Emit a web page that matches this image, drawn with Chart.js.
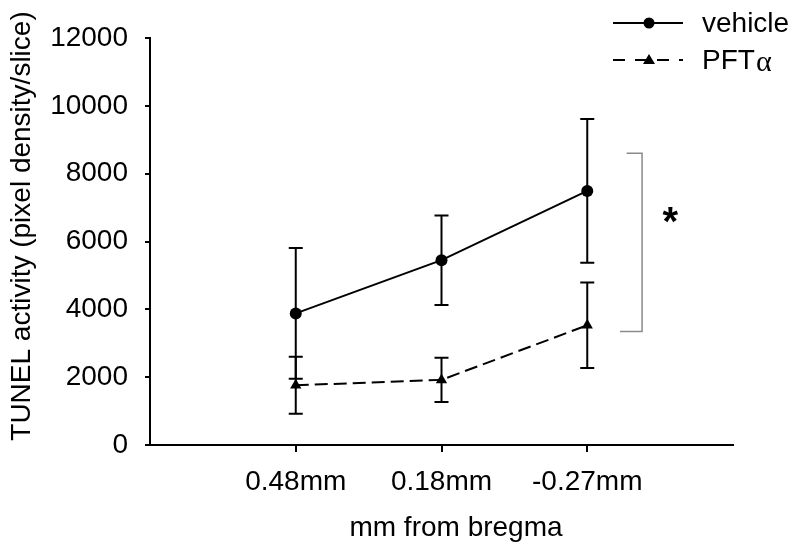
<!DOCTYPE html>
<html>
<head>
<meta charset="utf-8">
<script src="https://cdn.jsdelivr.net/npm/chart.js@4"></script>
<style>
  html, body { margin: 0; padding: 0; background: #fff; }
</style>
</head>
<body>
<canvas id="chart" width="800" height="553"></canvas>
<script>
'use strict';

const categories  = ['0.48mm', '0.18mm', '-0.27mm'];
const vehicleMean = [3880, 5450, 7490];
const vehicleErr  = [1930, 1320, 2120];
const pftMean     = [1760, 1920, 3530];
const pftErr      = [840, 650, 1260];
const yTicks      = [0, 2000, 4000, 6000, 8000, 10000, 12000];

// significance bracket and star, in data units
const bracketX   = 3.376;
const bracketArm = [3.27, 3.225];
const bracketY   = [8600, 3350];
const starPos    = {x: 3.57, y: 6880};

const FONT = "'Liberation Sans', Arial, sans-serif";
const font28 = {family: FONT, size: 28};

function toPoints(vals) {
    return vals.map((v, i) => ({x: i + 1, y: v}));
}

const extras = {
    id: 'extras',
    beforeDatasetsDraw(chart) {
        const ctx = chart.ctx;
        const xs = chart.scales.x, ys = chart.scales.y;
        ctx.save();
        ctx.strokeStyle = '#000';
        ctx.lineWidth = 2;
        [[vehicleMean, vehicleErr], [pftMean, pftErr]].forEach(([m, e]) => {
            m.forEach((v, i) => {
                const x = xs.getPixelForValue(i + 1);
                const yt = ys.getPixelForValue(v + e[i]);
                const yb = ys.getPixelForValue(v - e[i]);
                ctx.beginPath();
                ctx.moveTo(x, yt); ctx.lineTo(x, yb);
                ctx.moveTo(x - 7, yt); ctx.lineTo(x + 7, yt);
                ctx.moveTo(x - 7, yb); ctx.lineTo(x + 7, yb);
                ctx.stroke();
            });
        });
        ctx.restore();
    },
    afterDraw(chart) {
        const ctx = chart.ctx;
        const xs = chart.scales.x, ys = chart.scales.y;
        ctx.save();

        // bracket
        const bx = xs.getPixelForValue(bracketX);
        const by0 = ys.getPixelForValue(bracketY[0]);
        const by1 = ys.getPixelForValue(bracketY[1]);
        ctx.strokeStyle = '#8a8a8a';
        ctx.lineWidth = 1.5;
        ctx.beginPath();
        ctx.moveTo(xs.getPixelForValue(bracketArm[0]), by0);
        ctx.lineTo(bx, by0);
        ctx.lineTo(bx, by1);
        ctx.lineTo(xs.getPixelForValue(bracketArm[1]), by1);
        ctx.stroke();

        // star
        ctx.fillStyle = '#000';
        ctx.font = 'bold 40px ' + FONT;
        ctx.textAlign = 'center';
        ctx.textBaseline = 'alphabetic';
        ctx.fillText('*', xs.getPixelForValue(starPos.x), ys.getPixelForValue(starPos.y) + 0.58 * 40);

        // axis titles
        ctx.font = '28px ' + FONT;
        ctx.textBaseline = 'middle';
        ctx.fillText('mm from bregma', 456, 528);
        ctx.save();
        ctx.translate(22, 226);
        ctx.rotate(-Math.PI / 2);
        ctx.fillText('TUNEL activity (pixel density/slice)', 0, 0);
        ctx.restore();

        // legend
        ctx.strokeStyle = '#000';
        ctx.lineWidth = 2;
        ctx.beginPath();
        ctx.moveTo(613, 23); ctx.lineTo(683, 23);
        ctx.stroke();
        ctx.beginPath();
        ctx.arc(649, 23, 5.5, 0, Math.PI * 2);
        ctx.fill();

        ctx.setLineDash([12, 10]);
        ctx.beginPath();
        ctx.moveTo(613, 60); ctx.lineTo(683, 60);
        ctx.stroke();
        ctx.setLineDash([]);
        ctx.beginPath();
        ctx.moveTo(649, 54); ctx.lineTo(655, 64); ctx.lineTo(643, 64);
        ctx.closePath();
        ctx.fill();

        ctx.textAlign = 'left';
        ctx.font = '28px ' + FONT;
        ctx.fillText('vehicle', 702, 24);
        ctx.fillText('PFT', 702, 61);
        const w = ctx.measureText('PFT').width;
        ctx.font = "30px 'Liberation Serif', serif";
        ctx.fillText('\u03b1', 702 + w + 1, 63);

        ctx.restore();
    }
};

new Chart(document.getElementById('chart'), {
    type: 'line',
    data: {
        datasets: [{
            label: 'vehicle',
            data: toPoints(vehicleMean),
            borderColor: '#000',
            backgroundColor: '#000',
            borderWidth: 2,
            pointStyle: 'circle',
            pointRadius: 6,
            pointBorderWidth: 0,
            tension: 0
        }, {
            label: 'PFT\u03b1',
            data: toPoints(pftMean),
            borderColor: '#000',
            backgroundColor: '#000',
            borderWidth: 2,
            borderDash: [13, 6],
            pointStyle: 'triangle',
            pointRadius: 6.5,
            pointBorderWidth: 0,
            tension: 0
        }]
    },
    options: {
        responsive: false,
        animation: false,
        layout: {padding: {top: 38, right: 67, left: 0, bottom: 0}},
        plugins: {legend: {display: false}, tooltip: {enabled: false}},
        scales: {
            x: {
                type: 'linear',
                min: 0,
                max: 4,
                afterBuildTicks: s => { s.ticks = [1, 2, 3].map(v => ({value: v})); },
                afterFit: s => { s.height = 108; },
                grid: {drawOnChartArea: false, tickLength: 7, color: '#000', lineWidth: 2},
                border: {color: '#000', width: 2},
                ticks: {
                    callback: v => categories[v - 1],
                    font: font28,
                    color: '#000',
                    padding: 13,
                    maxRotation: 0,
                    autoSkip: false
                }
            },
            y: {
                min: 0,
                max: 12000,
                afterBuildTicks: s => { s.ticks = yTicks.map(v => ({value: v})); },
                afterFit: s => { s.width = 150; },
                grid: {drawOnChartArea: false, tickLength: 5, lineWidth: 2, color: '#000'},
                border: {color: '#000', width: 2},
                ticks: {font: font28, color: '#000', padding: 17, callback: v => String(v)}
            }
        }
    },
    plugins: [extras]
});
</script>
</body>
</html>
